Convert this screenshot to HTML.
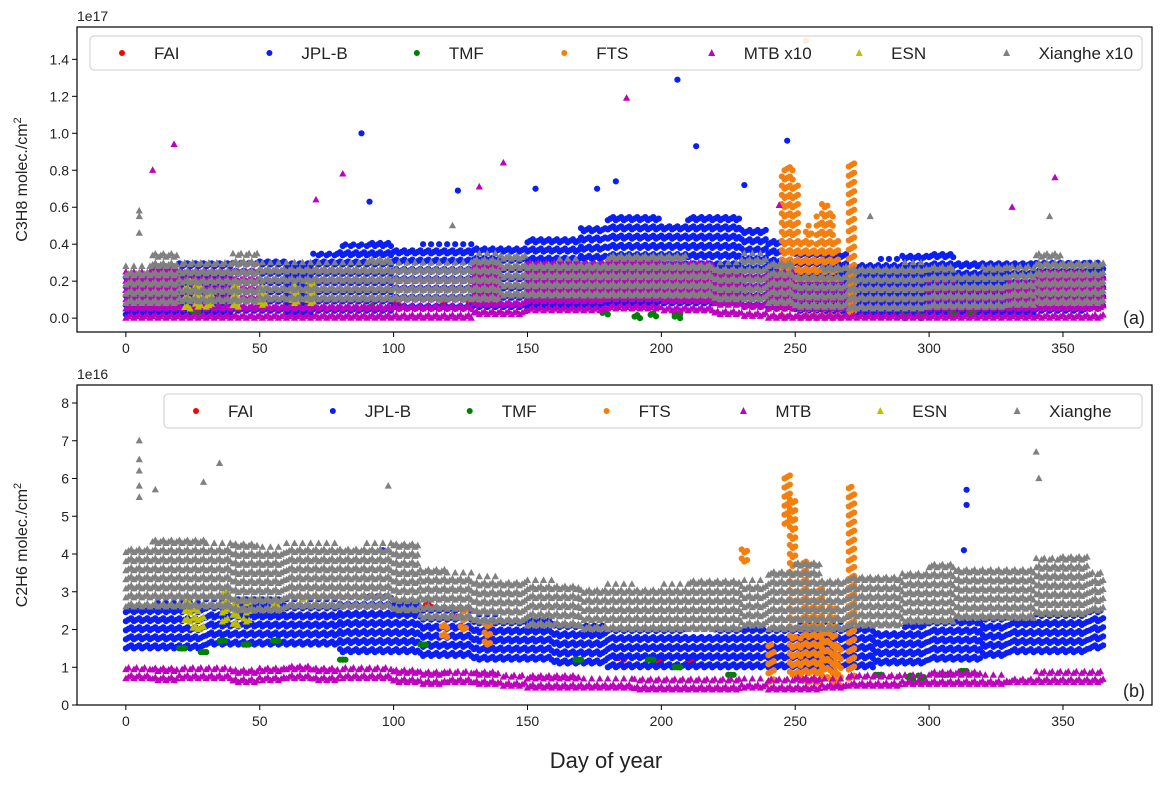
<!DOCTYPE html>
<html><head><meta charset="utf-8"><style>
body{margin:0;background:#fff;font-family:"Liberation Sans",sans-serif}
svg text{font-family:"Liberation Sans",sans-serif;fill:#222}
</style></head><body>
<svg id="c" width="1164" height="784" xmlns="http://www.w3.org/2000/svg"></svg>
<script>
// ---------- data (top panel values in 1e17, bottom in 1e16) ----------
const xTicks=[0,50,100,150,200,250,300,350];
const topYTicks=[0,0.2,0.4,0.6,0.8,1.0,1.2,1.4];
const botYTicks=[0,1,2,3,4,5,6,7,8];
const topNames=["FAI","JPL-B","TMF","FTS","MTB x10","ESN","Xianghe x10"];
const botNames=["FAI","JPL-B","TMF","FTS","MTB","ESN","Xianghe"];
// 10-day bins (37)
const topXiaLo=[0.08,0.08,0.09,0.09,0.09,0.1,0.1,0.1,0.1,0.1,0.1,0.1,0.1,0.1,0.12,0.12,0.12,0.12,0.12,0.12,0.12,0.12,0.1,0.1,0.08,0.06,0.06,0.05,0.05,0.05,0.06,0.06,0.06,0.07,0.08,0.08,0.08];
const topXiaHi=[0.28,0.35,0.3,0.3,0.35,0.3,0.3,0.3,0.3,0.32,0.3,0.3,0.3,0.35,0.35,0.3,0.32,0.3,0.35,0.35,0.35,0.3,0.3,0.35,0.3,0.25,0.3,0.28,0.28,0.3,0.3,0.25,0.28,0.28,0.35,0.3,0.3];
const topJplLo=[0.02,0.03,0.03,0.03,0.04,0.04,0.03,0.04,0.04,0.04,0.05,0.05,0.05,0.06,0.06,0.06,0.06,0.07,0.08,0.08,0.08,0.08,0.08,0.06,0.05,0.04,0.03,0.02,0.02,0.02,0.03,0.03,0.03,0.03,0.04,0.04,0.05];
const topJplHi=[0.25,0.28,0.3,0.3,0.3,0.32,0.3,0.35,0.4,0.42,0.38,0.4,0.4,0.4,0.4,0.45,0.45,0.5,0.55,0.55,0.52,0.55,0.55,0.5,0.42,0.38,0.35,0.3,0.32,0.35,0.35,0.32,0.3,0.3,0.3,0.3,0.3];
const topMtbLo=[0,0,0,0,0,0,0,0,0,0,0,0,0,0.02,0.02,0.04,0.04,0.04,0.05,0.05,0.04,0.04,0.02,0.01,0,0,0,0,0,0,0,0,0,0,0,0,0];
const topMtbHi=[0.25,0.28,0.25,0.25,0.25,0.25,0.25,0.27,0.25,0.25,0.25,0.25,0.25,0.3,0.3,0.3,0.3,0.3,0.33,0.33,0.3,0.3,0.25,0.25,0.25,0.2,0.2,0.18,0.18,0.2,0.2,0.18,0.18,0.2,0.25,0.25,0.22];
const topFts=[[245,0,0.8],[247,0.05,0.84],[249,0.1,0.75],[252,0,0.42],[254,0,0.5],[256,0,0.4],[258,0,0.55],[260,0,0.62],[262,0,0.58],[264,0,0.45],[266,0,0.2],[270,0.02,0.84]];
const topEsn=[[22,0.05,0.2],[26,0.06,0.18],[30,0.06,0.15],[40,0.06,0.18],[50,0.07,0.17],[62,0.08,0.18],[68,0.08,0.2]];
const topTmf=[[25,0.03,0.06],[48,0.05,0.08],[90,0.05,0.08],[178,0.02,0.05],[190,0.0,0.03],[196,0.01,0.04],[205,0.0,0.02],[290,0.0,0.03],[296,0.0,0.03],[308,0.01,0.04],[315,0.02,0.05]];
const topFai=[[100,0.07,0.1],[118,0.06,0.1],[128,0.07,0.1],[185,0.22,0.27],[230,0.15,0.2]];
const topJplOut=[[88,1.0],[206,1.29],[213,0.93],[247,0.96],[231,0.72],[183,0.74],[176,0.7],[153,0.7],[124,0.69],[91,0.63]];
const topMtbOut=[[10,0.8],[18,0.94],[81,0.78],[187,1.19],[141,0.84],[347,0.76],[71,0.64],[132,0.71],[244,0.61],[331,0.6]];
const topXiaOut=[[5,0.58],[5,0.55],[5,0.46],[345,0.55],[122,0.5],[278,0.55]];
const topFtsOut=[[254,1.5]];
const botXiaLo=[2.6,2.6,2.6,2.6,2.5,2.5,2.6,2.6,2.6,2.6,2.5,2.3,2.3,2.2,2.2,2.1,2.1,2.0,2.0,2.0,2.0,2.0,2.0,2.1,2.0,2.0,2.0,2.1,2.1,2.2,2.2,2.3,2.3,2.3,2.4,2.4,2.5];
const botXiaHi=[4.2,4.5,4.5,4.3,4.4,4.2,4.3,4.3,4.2,4.3,4.3,3.6,3.5,3.4,3.3,3.3,3.2,3.1,3.2,3.1,3.2,3.3,3.4,3.3,3.6,3.8,3.4,3.4,3.5,3.6,3.8,3.7,3.6,3.6,3.9,4.0,3.5];
const botJplLo=[1.5,1.5,1.5,1.6,1.6,1.6,1.6,1.6,1.4,1.4,1.4,1.3,1.3,1.2,1.2,1.2,1.1,1.1,1.0,1.0,1.0,1.0,1.0,1.0,1.0,1.0,1.0,1.0,1.1,1.1,1.2,1.2,1.3,1.4,1.4,1.4,1.5];
const botJplHi=[2.6,2.7,2.7,2.8,2.8,2.8,2.8,2.8,2.8,2.9,2.8,2.6,2.7,2.4,2.3,2.3,2.2,2.1,2.0,2.0,2.0,1.9,2.0,2.0,2.1,2.2,2.2,2.0,2.0,2.1,2.2,2.2,2.3,2.3,2.4,2.4,2.5];
const botMtbLo=[0.7,0.65,0.7,0.7,0.6,0.65,0.7,0.65,0.7,0.7,0.6,0.55,0.6,0.55,0.5,0.45,0.45,0.45,0.45,0.4,0.4,0.4,0.4,0.45,0.4,0.4,0.45,0.5,0.5,0.55,0.55,0.55,0.55,0.6,0.6,0.6,0.6];
const botMtbHi=[1.0,1.0,1.0,1.0,1.0,1.0,1.1,1.1,1.0,1.0,1.0,0.9,0.9,0.9,0.8,0.8,0.8,0.7,0.7,0.7,0.7,0.7,0.7,0.7,0.7,0.8,0.7,0.8,0.8,0.8,0.9,0.9,0.8,0.8,0.9,0.9,0.9];
const botFts=[[118,1.8,2.2],[125,2.0,2.6],[134,1.6,2.2],[230,3.8,4.2],[240,0.6,1.6],[246,4.8,6.2],[248,0.8,5.5],[250,0.8,1.8],[253,0.6,3.8],[256,0.6,2.6],[258,0.6,3.2],[260,0.7,2.0],[263,0.6,2.6],[265,0.5,1.6],[270,0.7,5.8]];
const botEsn=[[22,2.2,2.8],[25,2.0,2.7],[27,2.0,2.5],[36,2.2,3.0],[40,2.1,2.7],[44,2.2,2.8],[48,2.5,2.8],[55,2.6,2.8],[65,2.8,3.0],[70,2.6,3.0]];
const botTmf=[[20,1.5,1.5],[28,1.4,1.4],[35,1.7,1.7],[44,1.6,1.6],[55,1.7,1.7],[80,1.2,1.2],[110,1.6,1.6],[168,1.2,1.2],[195,1.2,1.2],[205,1.0,1.0],[225,0.8,0.8],[280,0.8,0.8],[292,0.7,0.9],[296,0.7,0.9],[305,0.8,0.8],[312,0.9,0.9]];
const botFai=[[92,2.6,2.8],[102,2.5,2.7],[112,2.6,2.8],[122,2.3,2.5],[184,1.2,1.4],[198,1.1,1.3],[210,1.1,1.2],[232,1.0,1.2]];
const botXiaOut=[[5,7.0],[5,6.5],[5,6.2],[5,5.8],[5,5.5],[35,6.4],[340,6.7],[341,6.0],[98,5.8],[11,5.7],[29,5.9]];
const botJplOut=[[314,5.7],[314,5.3],[313,4.1],[96,4.1]];
// ---------- drawing ----------
const svg=document.getElementById('c');const NS="http://www.w3.org/2000/svg";
function mk(t,a,p){const e=document.createElementNS(NS,t);for(const k in a)e.setAttribute(k,a[k]);(p||svg).appendChild(e);return e;}
const X0=77,X1=1152,xmin=-18.25,xmax=383.25;
const sx=d=>X0+(d-xmin)/(xmax-xmin)*(X1-X0);
const panels=[{top:27,bot:332,ymin:-0.075,ymax:1.575,step:0.025,ticks:topYTicks,fmt:v=>v.toFixed(1)},{top:385,bot:705,ymin:0,ymax:8.477,step:0.12,ticks:botYTicks,fmt:v=>String(v)}];
const col={FAI:"#ff0000",JPL:"#0a1ef5",TMF:"#008000",FTS:"#f57f0e",MTB:"#bf00bf",ESN:"#bfbf00",XIA:"#808080"};
function mark(g,shape,c,x,y,nm){let e;
 if(shape==='o'){e=mk('circle',{cx:x,cy:y,r:3.1,fill:c},g);}
 else{e=mk('polygon',{points:`${x},${y-4} ${x-3.6},${y+2.6} ${x+3.6},${y+2.6}`,fill:c},g);}
 
 }
function panel(P,idx,names,series){
 const sy=v=>P.bot-(v-P.ymin)/(P.ymax-P.ymin)*(P.bot-P.top);
 const g=mk('g',{});
 
 
 const clip=mk('clipPath',{id:'cp'+idx},g);mk('rect',{x:X0,y:P.top,width:X1-X0,height:P.bot-P.top},clip);
 const pg=mk('g',{'clip-path':`url(#cp${idx})`},g);
 
 
 for(const s of series){
  const sg=mk('g',{},pg);
  
  
  const stack=(d,lo,hi)=>{const off=(d%3)*P.step/3;for(let v=lo+off;v<=hi+1e-9;v+=P.step*2)mark(sg,s.shape,s.c,sx(d),sy(v),'point');if(hi-lo<P.step)mark(sg,s.shape,s.c,sx(d),sy(hi),'point');};
  if(s.lo){for(let b=0;b<s.lo.length;b++)for(let d=b*10;d<Math.min(b*10+10,366);d++)stack(d,s.lo[b],s.hi[b]);}
  if(s.list)for(const r of s.list)for(let k=0;k<3;k++)stack(r[0]+k,r[1],r[2]);
  if(s.out)for(const o of s.out)mark(sg,s.shape,s.c,sx(o[0]),sy(o[1]),'outlier-point');
 }
 const fr=mk('rect',{x:X0,y:P.top,width:X1-X0,height:P.bot-P.top,fill:'none',stroke:'#000','stroke-width':1.2},g);
 
 for(const t of xTicks){mk('line',{x1:sx(t),x2:sx(t),y1:P.bot,y2:P.bot+5,stroke:'#000'},g);
  const tx=mk('text',{x:sx(t),y:P.bot+21,'text-anchor':'middle','font-size':14},g);tx.textContent=t;
  }
 for(const t of P.ticks){mk('line',{x1:X0-5,x2:X0,y1:sy(t),y2:sy(t),stroke:'#000'},g);
  const tx=mk('text',{x:X0-8,y:sy(t)+5,'text-anchor':'end','font-size':14},g);tx.textContent=P.fmt(t);
  }
 const ex=mk('text',{x:X0,y:P.top-6,'font-size':14},g);ex.textContent=idx?'1e16':'1e17';
 
 const yt=mk('text',{x:0,y:0,'font-size':16,'text-anchor':'middle',transform:`translate(27,${(P.top+P.bot)/2}) rotate(-90)`},g);
 yt.innerHTML=(idx?'C2H6':'C3H8')+' molec./cm<tspan dy="-6" font-size="11">2</tspan>';
 
 const pl=mk('text',{x:1145,y:P.bot-8,'font-size':18,'text-anchor':'end'},g);pl.textContent=idx?'(b)':'(a)';
 
 const lx0=idx?164:90,lx1=1142,ly=P.top+9;
 const lg=mk('g',{},g);
 mk('rect',{x:lx0,y:ly,width:lx1-lx0,height:34,rx:4,fill:'#fff','fill-opacity':0.85,stroke:'#ccc'},lg);
 const shapes=['o','o','o','o','t','t','t'],cs=[col.FAI,col.JPL,col.TMF,col.FTS,col.MTB,col.ESN,col.XIA];
 const w=(lx1-lx0-20)/7;
 for(let i=0;i<7;i++){const ex0=lx0+22+i*w;const eg=mk('g',{},lg);
  
  if(shapes[i]==='o')mk('circle',{cx:ex0+10,cy:ly+17,r:3,fill:cs[i]},eg);
  else mk('polygon',{points:`${ex0+10},${ly+13} ${ex0+6.5},${ly+20} ${ex0+13.5},${ly+20}`,fill:cs[i]},eg);
  const t=mk('text',{x:ex0+42,y:ly+23,'font-size':17},eg);t.textContent=names[i];}
}
panel(panels[0],0,topNames,[
 {key:'FAI',shape:'o',c:col.FAI,list:topFai},
 {key:'JPL',shape:'o',c:col.JPL,lo:topJplLo,hi:topJplHi,out:topJplOut},
 {key:'TMF',shape:'o',c:col.TMF,list:topTmf},
 {key:'FTS',shape:'o',c:col.FTS,list:topFts,out:topFtsOut},
 {key:'MTB',shape:'t',c:col.MTB,lo:topMtbLo,hi:topMtbHi,out:topMtbOut},
 {key:'ESN',shape:'t',c:col.ESN,list:topEsn},
 {key:'XIA',shape:'t',c:col.XIA,lo:topXiaLo,hi:topXiaHi,out:topXiaOut}]);
panel(panels[1],1,botNames,[
 {key:'FAI',shape:'o',c:col.FAI,list:botFai},
 {key:'JPL',shape:'o',c:col.JPL,lo:botJplLo,hi:botJplHi,out:botJplOut},
 {key:'TMF',shape:'o',c:col.TMF,list:botTmf},
 {key:'FTS',shape:'o',c:col.FTS,list:botFts},
 {key:'MTB',shape:'t',c:col.MTB,lo:botMtbLo,hi:botMtbHi},
 {key:'ESN',shape:'t',c:col.ESN,list:botEsn},
 {key:'XIA',shape:'t',c:col.XIA,lo:botXiaLo,hi:botXiaHi,out:botXiaOut}]);
const xt=mk('text',{x:606,y:768,'font-size':22,'text-anchor':'middle'});xt.textContent='Day of year';


</script>
</body></html>
